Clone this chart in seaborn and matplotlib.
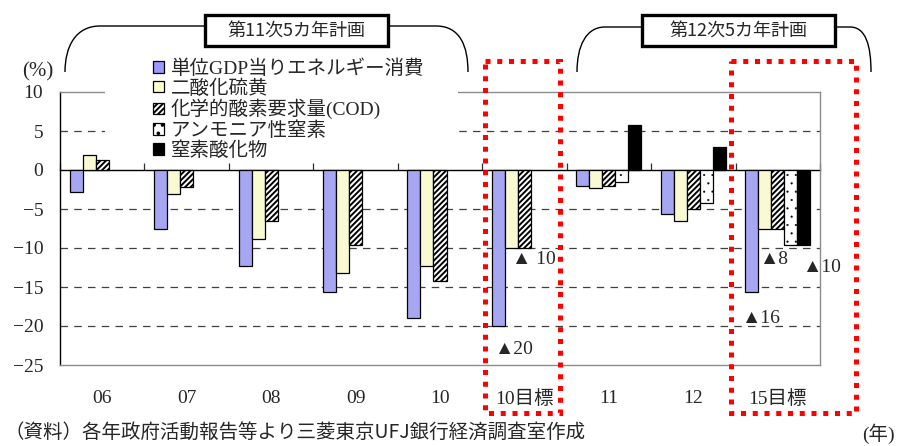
import numpy as np
import pandas as pd
import seaborn as sns
import matplotlib.pyplot as plt
from matplotlib.patches import Patch, Rectangle, PathPatch
from matplotlib.path import Path
from matplotlib.transforms import Affine2D

# data (% change vs previous year / plan targets)
years = ['06', '07', '08', '09', '10', '10目標', '11', '12', '15目標']
series = ['単位GDP当りエネルギー消費', '二酸化硫黄', '化学的酸素要求量(COD)',
          'アンモニア性窒素', '窒素酸化物']
energy = [-2.8, -7.6, -12.3, -15.6, -19.0, -20.0, -2.0, -5.6, -15.6]
so2 = [1.9, -3.1, -8.9, -13.2, -12.3, -10.0, -2.3, -6.6, -7.6]
cod = [1.3, -2.2, -6.5, -9.6, -14.2, -10.0, -2.0, -5.0, -7.6]
ammonia = [np.nan, np.nan, np.nan, np.nan, np.nan, np.nan, -1.6, -4.2, -9.6]
nox = [np.nan, np.nan, np.nan, np.nan, np.nan, np.nan, 5.8, 2.9, -9.6]

target_labels = ['▲ 10', '▲20', '▲8', '▲16', '▲10']
colors = ['#9999FF', '#FFFFCC', 'white', 'white', 'black']
hatches = ['', '', '//////', '..', '']
hatch_lw = [1.0, 1.0, 1.4, 0.3, 1.0]

df = pd.DataFrame({series[0]: energy, series[1]: so2, series[2]: cod,
                   series[3]: ammonia, series[4]: nox}, index=years)
df = df.reset_index(names='year').melt(id_vars='year', var_name='series', value_name='value')

sns.set_style('white')
plt.rcParams['font.family'] = ['Liberation Serif', 'Noto Sans CJK JP', 'DejaVu Sans']
plt.rcParams['hatch.linewidth'] = 1.4
plt.rcParams['hatch.color'] = 'black'
gothic = ['Noto Sans CJK JP', 'DejaVu Sans']

W, H = 897, 446
fig, ax = plt.subplots(figsize=(W / 100, H / 100), dpi=100)
fig.subplots_adjust(left=60 / W, right=820 / W, bottom=1 - 365 / H, top=1 - 92 / H)
# pixel coords (origin top-left) for the decorations
pix = Affine2D().scale(1 / W, -1 / H).translate(0, 1) + fig.transFigure

sns.barplot(data=df, x='year', y='value', hue='series', order=years, hue_order=series,
            palette=colors, width=0.77, edgecolor='black', linewidth=0.9,
            errorbar=None, legend=False, ax=ax)
for cont, h, hl in zip(ax.containers, hatches, hatch_lw):
    for bar in cont:
        bar.set_hatch(h)
        if hasattr(bar, 'set_hatch_linewidth'):
            bar.set_hatch_linewidth(hl)
        bar.set_zorder(3)

ax.set_xlim(-0.5, len(years) - 0.5)
ax.set_ylim(-25, 10)
ax.set_yticks(np.arange(-25, 11, 5))
ax.set_xlabel('')
ax.set_ylabel('')
ax.tick_params(axis='x', length=0, pad=18, labelsize=14)
ax.tick_params(axis='y', length=0, pad=12, labelsize=14)

# dashed gridlines
for lev in [5, -5, -10, -15, -20]:
    ax.axhline(lev, color='#404040', linestyle=(0, (6, 5)), linewidth=0.9, zorder=0.5)

for side in ['top', 'right', 'bottom']:
    ax.spines[side].set_color('#8c8c8c')
    ax.spines[side].set_linewidth(1.0)
ax.spines['left'].set_color('black')
ax.spines['left'].set_linewidth(1.0)

# category axis crossing at zero
zero = ax.secondary_xaxis(25 / 35)
zero.set_xticks(np.arange(len(years) + 1) - 0.5)
zero.tick_params(length=5, width=0.9, color='#303030', labeltop=False, labelbottom=False)
for sp in zero.spines.values():
    sp.set_color('black')
    sp.set_linewidth(1.0)

# target annotations
ax.text(4.853, -11.5, target_labels[0], fontsize=14, va='center', zorder=6)
ax.text(4.64, -23.0, target_labels[1], fontsize=14, va='center', zorder=6)
ax.text(7.78, -11.5, target_labels[2], fontsize=14, va='center', zorder=6)
ax.text(7.565, -19.0, target_labels[3], fontsize=14, va='center', zorder=6)
ax.text(8.287, -12.5, target_labels[4], fontsize=14, va='center', zorder=6)

# legend sits on a white block over the plot area
cover = Rectangle((105, 58), 353, 100, transform=pix, facecolor='white',
                  edgecolor='none', zorder=2.8, clip_on=False)
ax.add_artist(cover)
handles = []
for c, h, hl in zip(colors, hatches, hatch_lw):
    p = Patch(facecolor=c, edgecolor='black', hatch=h, linewidth=0.9)
    if hasattr(p, 'set_hatch_linewidth'):
        p.set_hatch_linewidth(hl)
    handles.append(p)
leg = ax.legend(handles, series, loc='upper left', bbox_to_anchor=(153 / W, 1 - 59 / H),
                bbox_transform=fig.transFigure, frameon=False, fontsize=14,
                handlelength=0.55, handleheight=0.55, handletextpad=0.35,
                labelspacing=0.08, borderpad=0, borderaxespad=0)
leg.set_zorder(5)

fig.text(22 / W, 1 - 72 / H, '(%)', fontsize=15, va='center')

# plan headers with brackets
for (bx, bw, label) in [(205, 183, '第11次5カ年計画'), (642, 193, '第12次5カ年計画')]:
    fig.add_artist(Rectangle((bx, 15), bw, 31, transform=pix, facecolor='white',
                             edgecolor='black', linewidth=2.4))
    fig.text((bx + bw / 2) / W, 1 - 32 / H, label, fontsize=13, family=gothic,
             ha='center', va='center')

brackets = [
    [(65, 72), (65, 46), (76, 26), (100, 26), (205, 26)],
    [(388, 26), (436, 26), (460, 26), (468, 46), (468, 72)],
    [(577, 72), (577, 46), (586, 27), (605, 27), (642, 27)],
    [(835, 27), (850, 27), (866, 27), (871, 46), (871, 72)],
]
codes_l = [Path.MOVETO, Path.CURVE4, Path.CURVE4, Path.CURVE4, Path.LINETO]
codes_r = [Path.MOVETO, Path.LINETO, Path.CURVE4, Path.CURVE4, Path.CURVE4]
for i, pts in enumerate(brackets):
    codes = codes_l if i % 2 == 0 else codes_r
    fig.add_artist(PathPatch(Path(pts, codes), transform=pix, facecolor='none',
                             edgecolor='black', linewidth=1.0))

# red dotted frames around the targets
for (rx, rw) in [(485, 75), (731, 125)]:
    fig.add_artist(Rectangle((rx, 61), rw, 352, transform=pix, fill=False,
                             edgecolor='#FF0000', linewidth=3.6,
                             linestyle=(0, (1, 1.35))))

fig.text(4 / W, 1 - 422 / H, '（資料）各年政府活動報告等より三菱東京UFJ銀行経済調査室作成',
         fontsize=14, family=gothic, va='top')
fig.text(862 / W, 1 - 434 / H, '(年)', fontsize=14, va='center')

fig.savefig('out.png', dpi=100)
